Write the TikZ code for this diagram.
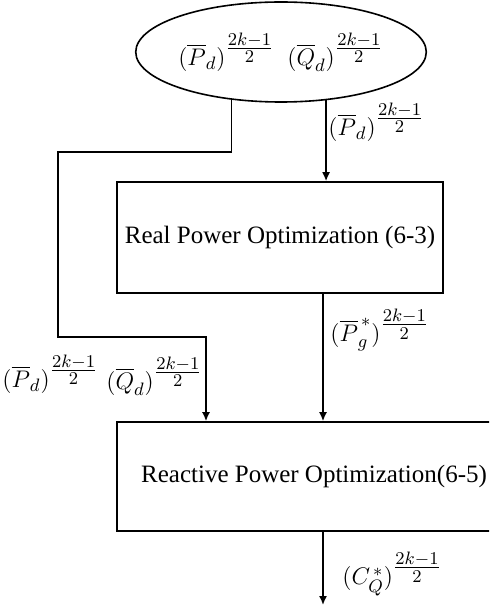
\documentclass[tikz,border=0pt]{standalone}
\usepackage{amsmath,amssymb}
\usepackage{fontspec}
\setmainfont{Liberation Serif}
\usepackage{tikz}
\usetikzlibrary{arrows.meta,positioning,calc,shapes.geometric}

\begin{document}
\begin{tikzpicture}[
  x=0.5pt, y=-0.5pt,
  font=\fontsize{12.5}{15}\selectfont,
  >={Latex[length=4.5pt,width=4pt]},
  block/.style={draw=black, line width=0.8pt, align=center, inner sep=3pt, fill=white},
  data/.style={draw=black, ellipse, line width=0.8pt, minimum width=104pt, minimum height=50pt, inner sep=0pt},
  flow/.style={->, line width=0.8pt},
  lbl/.style={anchor=west, inner sep=0pt, font=\fontsize{13}{15}\selectfont}
]
  \clip (0,0) rectangle (489,609);

  % demand input
  \node[data, font=\fontsize{13}{15}\selectfont] (dem) at (281,52) {$(\overline{P}_d)^{\tfrac{2k-1}{2}}\ \ (\overline{Q}_d)^{\tfrac{2k-1}{2}}$};

  % optimization stages
  \node[block, minimum width=163pt, minimum height=55.5pt] (rp) at (280,237.5) {Real Power Optimization (6-3)};
  \node[block, minimum width=197pt, minimum height=54.5pt] (rop) at (314,476.5) {Reactive Power Optimization(6-5)};

  % routing points
  \coordinate (col) at (323,0);
  \coordinate (lft) at (58,152);
  \coordinate (jn) at (206,337);
  \coordinate (out) at (323,605);

  \draw[flow] (dem.-47.6) -- (dem.-47.6 |- rp.north);
  \draw[flow] (dem.-136) |- (lft) |- (jn) -- (jn |- rop.north);
  \draw[flow] (rp.south -| col) -- (rop.north -| col);
  \draw[flow] (rop.south -| col) -- (out);

  % flow labels
  \node[lbl] (l1) at (328,122) {$(\overline{P}_d)^{\tfrac{2k-1}{2}}$};
  \node[lbl] (l2) at (330,330) {$(\overline{P}_g^{\,*})^{\tfrac{2k-1}{2}}$};
  \node[lbl] (l3) at (2,374) {$(\overline{P}_d)^{\tfrac{2k-1}{2}}$};
  \node[lbl] (l4) at (106,376) {$(\overline{Q}_d)^{\tfrac{2k-1}{2}}$};
  \node[lbl] (l5) at (342,574) {$(C_Q^{\,*})^{\tfrac{2k-1}{2}}$};
\end{tikzpicture}
\end{document}
